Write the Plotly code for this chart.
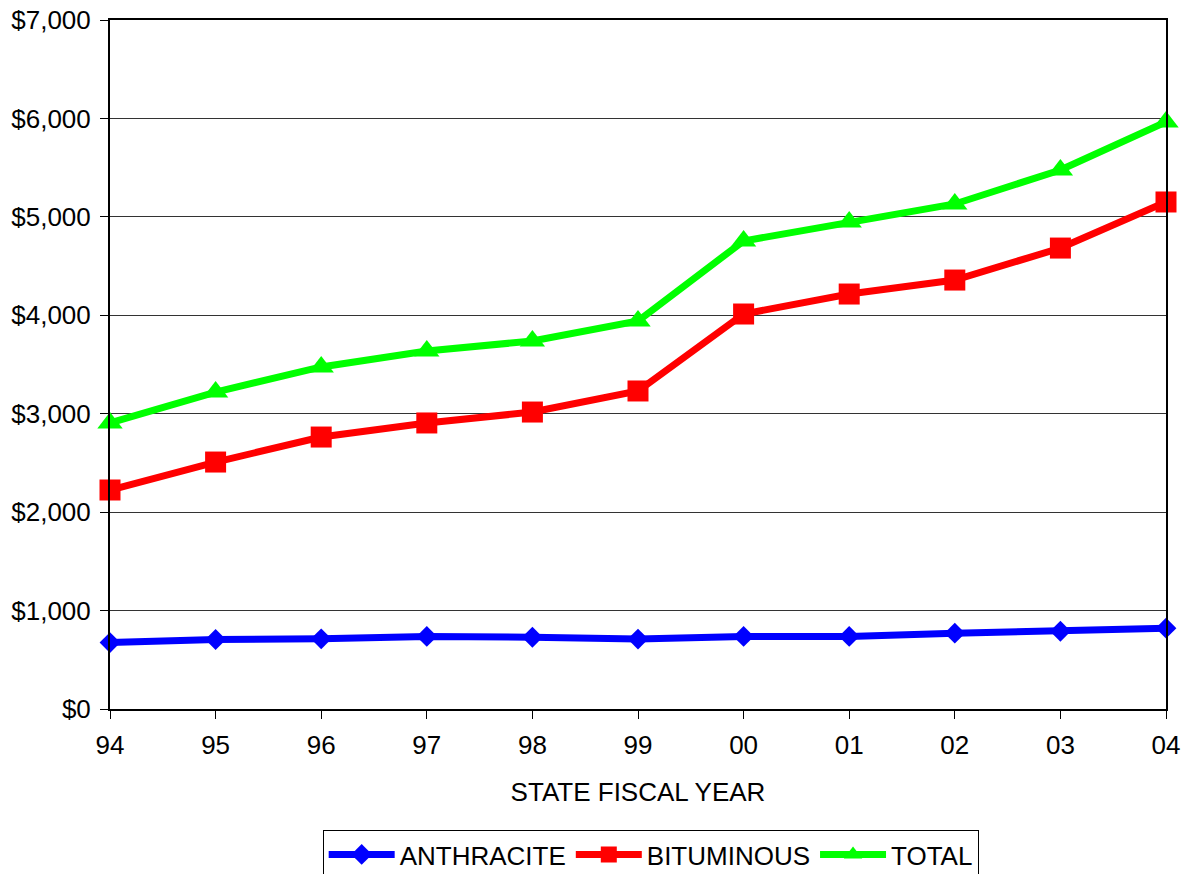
import plotly.graph_objects as go

years = ["94", "95", "96", "97", "98", "99", "00", "01", "02", "03", "04"]
anthracite = [675, 706, 713, 737, 729, 710, 737, 737, 770, 790, 821]
bituminous = [2225, 2509, 2763, 2906, 3017, 3231, 4013, 4216, 4358, 4683, 5151]
total = [2906, 3220, 3475, 3637, 3739, 3942, 4755, 4948, 5131, 5476, 5964]

fig = go.Figure()

fig.add_trace(go.Scatter(
    x=years, y=anthracite, name="ANTHRACITE", mode="lines+markers",
    line=dict(color="#0000ff", width=7),
    marker=dict(symbol="diamond", size=16, color="#0000ff"),
    cliponaxis=False,
))
fig.add_trace(go.Scatter(
    x=years, y=bituminous, name="BITUMINOUS", mode="lines+markers",
    line=dict(color="#ff0000", width=7),
    marker=dict(symbol="square", size=21, color="#ff0000"),
    cliponaxis=False,
))
fig.add_trace(go.Scatter(
    x=years, y=total, name="TOTAL", mode="lines+markers",
    line=dict(color="#00ff00", width=7),
    marker=dict(symbol="triangle-up", size=22, color="#00ff00"),
    cliponaxis=False,
))

fig.update_layout(
    width=1185, height=874,
    margin=dict(l=110, r=19, t=20, b=165, autoexpand=False),
    paper_bgcolor="white", plot_bgcolor="white",
    font=dict(family="Liberation Sans, Arial, sans-serif", size=26, color="black"),
    legend=dict(
        orientation="h", x=0.512, xanchor="center", y=-0.1756, yanchor="top",
        bordercolor="black", borderwidth=1, font=dict(size=26),
        itemwidth=66, tracegroupgap=0,
    ),
)

fig.update_xaxes(
    type="category", range=[0, 10], automargin=False,
    showgrid=False, showline=True, linecolor="black", linewidth=2,
    mirror=True, ticks="outside", ticklen=8, tickcolor="black",
    ticklabelstandoff=4, ticklabeloverflow="allow",
    title=dict(text="STATE FISCAL YEAR", standoff=24, font=dict(size=26)),
)
fig.update_yaxes(
    range=[0, 7000], dtick=1000, tickprefix="$", tickformat=",d", automargin=False,
    showgrid=True, gridcolor="#333333", gridwidth=1,
    showline=True, linecolor="black", linewidth=2, mirror=True,
    ticks="outside", ticklen=8, tickcolor="black", zeroline=False,
    ticklabelstandoff=4, ticklabeloverflow="allow",
)

# drop the default 8px body margin so the figure sits flush in the window
fig.write_html("out.html", config={"displayModeBar": False},
               post_script="document.body.style.margin='0';")
